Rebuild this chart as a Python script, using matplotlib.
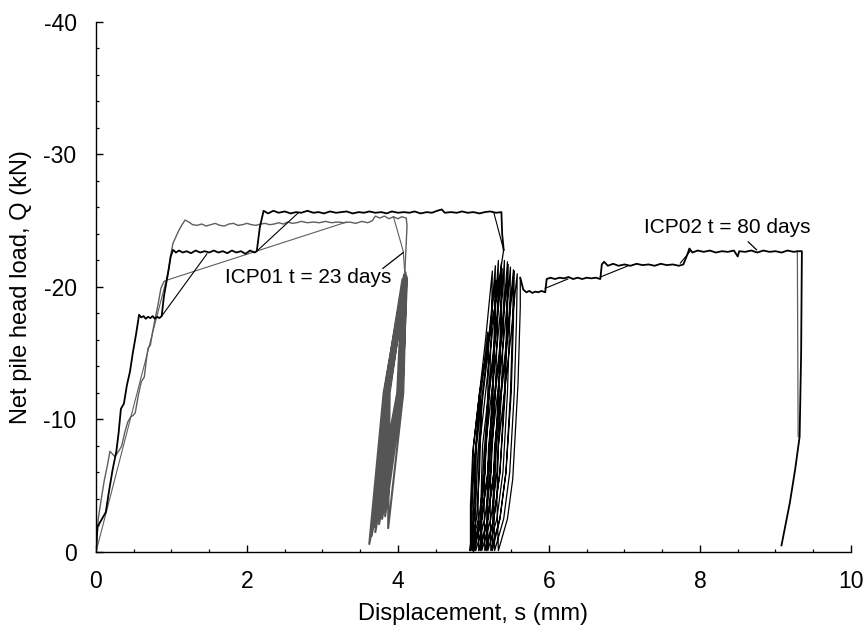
import numpy as np
import matplotlib
matplotlib.use("Agg")
import matplotlib.pyplot as plt
from matplotlib.ticker import MultipleLocator

plt.rcParams['font.family'] = ['Liberation Sans', 'DejaVu Sans']
plt.rcParams['axes.unicode_minus'] = False

# ---------------- data (displacement s in mm, load Q in kN) ----------------
# ICP01 (t = 23 days) - detailed static load path, grey
icp01_static = [
    (0, 0), (0.03, -2.5), (0.07, -4.0), (0.11, -5.4), (0.15, -6.5), (0.185, -7.6),
    (0.25, -7.2), (0.30, -7.6), (0.34, -8.0), (0.38, -9.0), (0.42, -9.8), (0.46, -10.2),
    (0.49, -10.3), (0.52, -10.5), (0.56, -11.8), (0.60, -12.85), (0.64, -13.2),
    (0.67, -14.6), (0.69, -15.4), (0.72, -15.6), (0.75, -16.6), (0.78, -17.5),
    (0.82, -18.6), (0.86, -19.9), (0.90, -20.4), (0.93, -20.5), (0.96, -21.2),
    (0.99, -22.4), (1.02, -23.3), (1.06, -23.8), (1.10, -24.3), (1.14, -24.7),
    (1.18, -25.05), (1.23, -24.9), (1.28, -24.7), (1.34, -24.65), (1.40, -24.75),
    (1.46, -24.6), (1.52, -24.7), (1.58, -24.8), (1.64, -24.65), (1.70, -24.6),
    (1.76, -24.75), (1.82, -24.8), (1.88, -24.65), (1.94, -24.7), (2.00, -24.8),
    (2.06, -24.7), (2.12, -24.65), (2.18, -24.75), (2.24, -24.8), (2.30, -24.7),
    (2.36, -24.75), (2.42, -24.85), (2.48, -24.75), (2.54, -24.9), (2.60, -24.8),
    (2.66, -24.85), (2.72, -24.95), (2.80, -24.85), (2.88, -24.9), (2.96, -24.85),
    (3.04, -24.95), (3.12, -24.85), (3.20, -24.9), (3.28, -24.85), (3.36, -24.9),
    (3.44, -24.8), (3.52, -24.95), (3.60, -24.85), (3.66, -25.0), (3.70, -25.35),
    (3.76, -25.2), (3.82, -25.35), (3.88, -25.15), (3.94, -25.3), (4.00, -25.15),
    (4.05, -25.3), (4.11, -25.2), (4.12, -24.6), (4.09, -21.0),
]
# ICP01 cyclic loops: peak, unloading mid, trough, reloading mid ...
icp01_cyclic = [
    (4.09, -21.0), (3.81, -12.0), (3.62, -0.6), (3.99, -12.0),
    (4.06, -20.6), (3.82, -12.0), (3.65, -1.2), (4.00, -12.0),
    (4.08, -20.9), (3.83, -12.0), (3.68, -1.9), (4.01, -12.0),
    (4.10, -21.1), (3.84, -12.0), (3.70, -1.5), (4.02, -12.0),
    (4.08, -20.7), (3.845, -12.0), (3.72, -2.3), (4.03, -12.0),
    (4.10, -20.9), (3.85, -12.0), (3.74, -2.6), (4.035, -12.0),
    (4.09, -20.6), (3.86, -12.0), (3.75, -2.1), (4.04, -12.0),
    (4.11, -20.8), (3.865, -12.0), (3.77, -2.9), (4.045, -12.0),
    (4.10, -20.5), (3.87, -12.0), (3.79, -2.5), (4.05, -12.0),
    (4.11, -20.7), (3.875, -12.0), (3.81, -3.0), (4.055, -12.0),
    (4.12, -20.6), (3.88, -12.0), (3.83, -2.7), (4.06, -12.0),
    (4.11, -20.8), (3.89, -12.0), (3.87, -1.8), (4.07, -12.0),
    (4.11, -20.6),
]
# ICP01 sparse record (straight links between hold stages)
icp01_sparse = [(0, 0), (0.93, -20.5), (3.32, -24.9)]
icp01_drop = [(3.94, -25.3), (4.07, -22.7), (4.09, -21.0)]
icp01_final = [(9.29, -22.7), (9.30, -8.7)]

# ICP02 (t = 80 days) - detailed static + cyclic + static path, black
icp02_static_a = [
    (0, 0), (0.02, -1.9), (0.08, -2.5), (0.13, -3.0), (0.17, -4.5), (0.22, -6.2),
    (0.27, -7.6), (0.30, -9.0), (0.33, -10.8), (0.37, -11.2), (0.41, -12.6),
    (0.45, -13.6), (0.49, -15.1), (0.53, -16.4), (0.56, -17.5), (0.57, -17.9),
    (0.60, -17.7), (0.63, -17.8), (0.66, -17.6), (0.69, -17.75), (0.72, -17.65),
    (0.75, -17.8), (0.78, -17.6), (0.81, -17.75), (0.84, -17.65), (0.87, -17.8),
    (0.90, -19.3), (0.95, -20.9), (0.99, -22.3), (1.02, -22.8),
    (1.06, -22.6), (1.10, -22.75), (1.15, -22.6), (1.20, -22.7), (1.26, -22.55),
    (1.32, -22.75), (1.38, -22.6), (1.44, -22.7), (1.50, -22.6), (1.56, -22.75),
    (1.62, -22.6), (1.68, -22.7), (1.74, -22.55), (1.80, -22.75), (1.86, -22.6),
    (1.92, -22.7), (1.98, -22.5), (2.04, -22.75), (2.10, -22.6), (2.13, -22.7),
    (2.17, -24.5), (2.22, -25.75),
    (2.28, -25.55), (2.35, -25.75), (2.42, -25.6), (2.50, -25.7), (2.58, -25.55),
    (2.65, -25.65), (2.72, -25.6), (2.80, -25.75), (2.88, -25.6), (2.95, -25.65),
    (3.02, -25.55), (3.10, -25.7), (3.18, -25.6), (3.25, -25.65), (3.32, -25.7),
    (3.40, -25.55), (3.48, -25.65), (3.55, -25.6), (3.62, -25.7), (3.70, -25.6),
    (3.78, -25.65), (3.85, -25.55), (3.92, -25.7), (4.00, -25.6), (4.08, -25.65),
    (4.15, -25.6), (4.22, -25.7), (4.30, -25.55), (4.38, -25.65), (4.45, -25.6),
    (4.52, -25.75), (4.58, -25.85), (4.62, -25.6), (4.70, -25.65), (4.78, -25.6),
    (4.85, -25.7), (4.92, -25.6), (5.00, -25.65), (5.08, -25.55), (5.15, -25.65),
    (5.22, -25.7), (5.30, -25.6), (5.37, -25.65), (5.38, -24.0), (5.40, -22.8),
]
# ICP02 cyclic loops (lens-shaped hysteresis loops)
icp02_cyclic = [
    (5.40, -22.8), (5.30, -19.0), (5.17, -15.0), (5.08, -12.0), (4.99, -7.5), (4.96, -3.5),
    (4.96, -0.1), (5.04, -2.5), (5.08, -6.0), (5.10, -10.0), (5.09, -11.5),
    (5.05, -9.5), (5.00, -6.0), (4.97, -3.0),
    (4.98, -0.1), (5.09, -2.5), (5.15, -6.0), (5.19, -12.0), (5.20, -15.5), (5.19, -16.6),
    (5.15, -14.5), (5.08, -11.0), (5.02, -7.0), (5.00, -3.0),
    (5.01, -0.1), (5.11, -2.5), (5.19, -6.0), (5.26, -12.0), (5.29, -17.5), (5.30, -20.5),
    (5.26, -19.0), (5.20, -15.5), (5.12, -11.5), (5.06, -7.5), (5.03, -3.5),
    (4.95, -0.1), (5.07, -2.5), (5.15, -6.0), (5.21, -12.0), (5.24, -17.5), (5.25, -21.2),
    (5.22, -19.5), (5.16, -16.0), (5.08, -12.0), (5.00, -8.0), (4.98, -4.0),
    (4.99, -0.1), (5.11, -2.5), (5.19, -6.0), (5.25, -12.0), (5.28, -17.5), (5.29, -21.6),
    (5.26, -19.5), (5.20, -16.0), (5.12, -12.0), (5.04, -8.0), (5.02, -4.0),
    (5.03, -0.1), (5.15, -2.5), (5.23, -6.0), (5.29, -12.0), (5.32, -17.5), (5.33, -22.0),
    (5.30, -19.5), (5.24, -16.0), (5.16, -12.0), (5.08, -8.0), (5.06, -4.0),
    (5.07, -0.1), (5.19, -2.5), (5.27, -6.0), (5.33, -12.0), (5.36, -17.5), (5.37, -21.8),
    (5.34, -19.5), (5.28, -16.0), (5.20, -12.0), (5.12, -8.0), (5.10, -4.0),
    (5.09, -0.1), (5.19, -2.5), (5.27, -6.0), (5.34, -12.0), (5.37, -17.5), (5.38, -21.4),
    (5.34, -19.0), (5.28, -15.5), (5.20, -11.5), (5.14, -7.5), (5.11, -3.5),
    (5.11, -0.1), (5.23, -2.5), (5.31, -6.0), (5.37, -12.0), (5.40, -17.5), (5.41, -22.0),
    (5.38, -19.5), (5.32, -16.0), (5.24, -12.0), (5.16, -8.0), (5.14, -4.0),
    (5.15, -0.1), (5.27, -2.5), (5.35, -6.0), (5.41, -12.0), (5.44, -17.5), (5.45, -21.9),
    (5.42, -19.5), (5.36, -16.0), (5.28, -12.0), (5.20, -8.0), (5.18, -4.0),
    (5.17, -0.1), (5.27, -2.5), (5.35, -6.0), (5.42, -12.0), (5.45, -17.5), (5.46, -21.7),
    (5.42, -19.0), (5.36, -15.5), (5.28, -11.5), (5.22, -7.5), (5.19, -3.5),
    (5.19, -0.1), (5.31, -2.5), (5.39, -6.0), (5.45, -12.0), (5.48, -17.5), (5.49, -21.5),
    (5.46, -19.5), (5.40, -16.0), (5.32, -12.0), (5.24, -8.0), (5.22, -4.0),
    (5.23, -0.1), (5.35, -2.5), (5.43, -6.0), (5.49, -12.0), (5.52, -17.5), (5.53, -21.3),
    (5.50, -19.5), (5.44, -16.0), (5.36, -12.0), (5.28, -8.0), (5.26, -4.0),
    (5.25, -0.1), (5.35, -2.5), (5.43, -6.0), (5.50, -12.0), (5.53, -17.5), (5.54, -21.2),
    (5.50, -19.0), (5.44, -15.5), (5.36, -11.5), (5.30, -7.5), (5.27, -3.5),
    (5.28, -0.1), (5.40, -2.5), (5.48, -6.0), (5.54, -12.0), (5.57, -17.5), (5.58, -21.0),
    (5.55, -19.5), (5.49, -16.0), (5.41, -12.0), (5.33, -8.0), (5.31, -4.0),
    (5.33, -0.1), (5.45, -2.5), (5.52, -5.5), (5.59, -12.7), (5.62, -18.5), (5.62, -20.7),
]
icp02_static_b = [
    (5.62, -20.7), (5.66, -19.8), (5.70, -19.6), (5.74, -19.7), (5.78, -19.55),
    (5.82, -19.65), (5.86, -19.6), (5.90, -19.7), (5.95, -19.6), (5.97, -20.6),
    (6.02, -20.7), (6.08, -20.6), (6.14, -20.7), (6.20, -20.65), (6.26, -20.75),
    (6.32, -20.6), (6.38, -20.7), (6.44, -20.6), (6.50, -20.7), (6.56, -20.65),
    (6.62, -20.7), (6.68, -20.6), (6.70, -21.7), (6.73, -21.9), (6.78, -21.6),
    (6.85, -21.75), (6.92, -21.6), (7.00, -21.7), (7.08, -21.6), (7.16, -21.75),
    (7.24, -21.65), (7.32, -21.7), (7.40, -21.6), (7.48, -21.75), (7.56, -21.65),
    (7.64, -21.7), (7.72, -21.6), (7.78, -21.7), (7.83, -22.4), (7.86, -22.9),
    (7.90, -22.6), (7.97, -22.75), (8.05, -22.65), (8.13, -22.75), (8.21, -22.6),
    (8.29, -22.7), (8.37, -22.65), (8.45, -22.75), (8.50, -22.3), (8.52, -22.7),
    (8.60, -22.65), (8.68, -22.75), (8.76, -22.6), (8.84, -22.75), (8.92, -22.65),
    (9.00, -22.7), (9.08, -22.6), (9.16, -22.75), (9.24, -22.65), (9.30, -22.7),
    (9.35, -22.7), (9.34, -15.0), (9.32, -8.7), (9.26, -6.2), (9.19, -3.7),
    (9.08, -0.5),
]
# ICP02 sparse record links (segments)
icp02_sparse = [
    [(0.87, -17.8), (1.47, -22.5)],
    [(2.13, -22.7), (2.68, -25.6)],
    [(5.27, -25.6), (5.40, -22.8)],
    [(5.95, -19.9), (6.25, -20.6)],
    [(6.68, -20.75), (7.05, -21.6)],
    [(7.74, -21.8), (7.87, -22.7)],
]

labels = ["ICP01 t = 23 days", "ICP02 t = 80 days"]
label_pos = [(2.81, -20.7), (8.36, -24.5)]
leader_lines = [[(3.80, -21.4), (4.07, -22.6)], [(8.64, -23.4), (8.75, -22.8)]]

x_ticks = [0, 2, 4, 6, 8, 10]
y_ticks = [0, -10, -20, -30, -40]

# ---------------- plotting ----------------
GREY = '#5e5e5e'
BLACK = '#000000'

fig = plt.figure(figsize=(8.67, 6.33), dpi=100)
ax = fig.add_axes([0.1107, 0.128, 0.8708, 0.8373])


def draw(path, color, lw=0.9, zorder=2):
    arr = np.array(path, dtype=float)
    ax.plot(arr[:, 0], arr[:, 1], color=color, lw=lw, zorder=zorder,
            solid_joinstyle='round')


draw(icp01_static, GREY, lw=1.0)
draw(icp01_cyclic, '#555555', lw=1.5)
draw(icp01_sparse, GREY, lw=0.8)
draw(icp01_drop, GREY, lw=0.8)
draw(icp01_final, GREY, lw=0.9)

draw(icp02_static_a, BLACK, lw=1.3, zorder=3)
draw(icp02_cyclic, BLACK, lw=0.9, zorder=3)
draw(icp02_static_b, BLACK, lw=1.3, zorder=3)
for seg in icp02_sparse:
    draw(seg, BLACK, lw=0.8, zorder=3)

for text, (tx, ty), ln in zip(labels, label_pos, leader_lines):
    ax.text(tx, ty, text, fontsize=15, ha='center', va='center', zorder=5)
    arr = np.array(ln)
    ax.plot(arr[:, 0], arr[:, 1], color='black', lw=0.9, zorder=5)

ax.set_xlim(0, 10)
ax.set_ylim(0, -40)
ax.set_xticks(x_ticks)
ax.set_yticks(y_ticks)
ax.set_xticklabels([str(v) for v in x_ticks])
ax.set_yticklabels([str(v) for v in y_ticks])
ax.xaxis.set_minor_locator(MultipleLocator(0.5))
ax.yaxis.set_minor_locator(MultipleLocator(2))

for side in ('top', 'right'):
    ax.spines[side].set_visible(False)
for side in ('left', 'bottom'):
    ax.spines[side].set_linewidth(1.0)

ax.tick_params(which='major', direction='in', length=5, width=1.0,
               labelsize=16.5, pad=12)
ax.tick_params(which='minor', direction='in', length=2.5, width=0.9)
ax.tick_params(axis='x', which='major', pad=13)
ax.tick_params(axis='y', which='major', pad=14)

ax.set_xlabel('Displacement, s (mm)', fontsize=17, labelpad=7)
ax.set_ylabel('Net pile head load, Q (kN)', fontsize=17, labelpad=8)

fig.savefig('out.png', dpi=100)
